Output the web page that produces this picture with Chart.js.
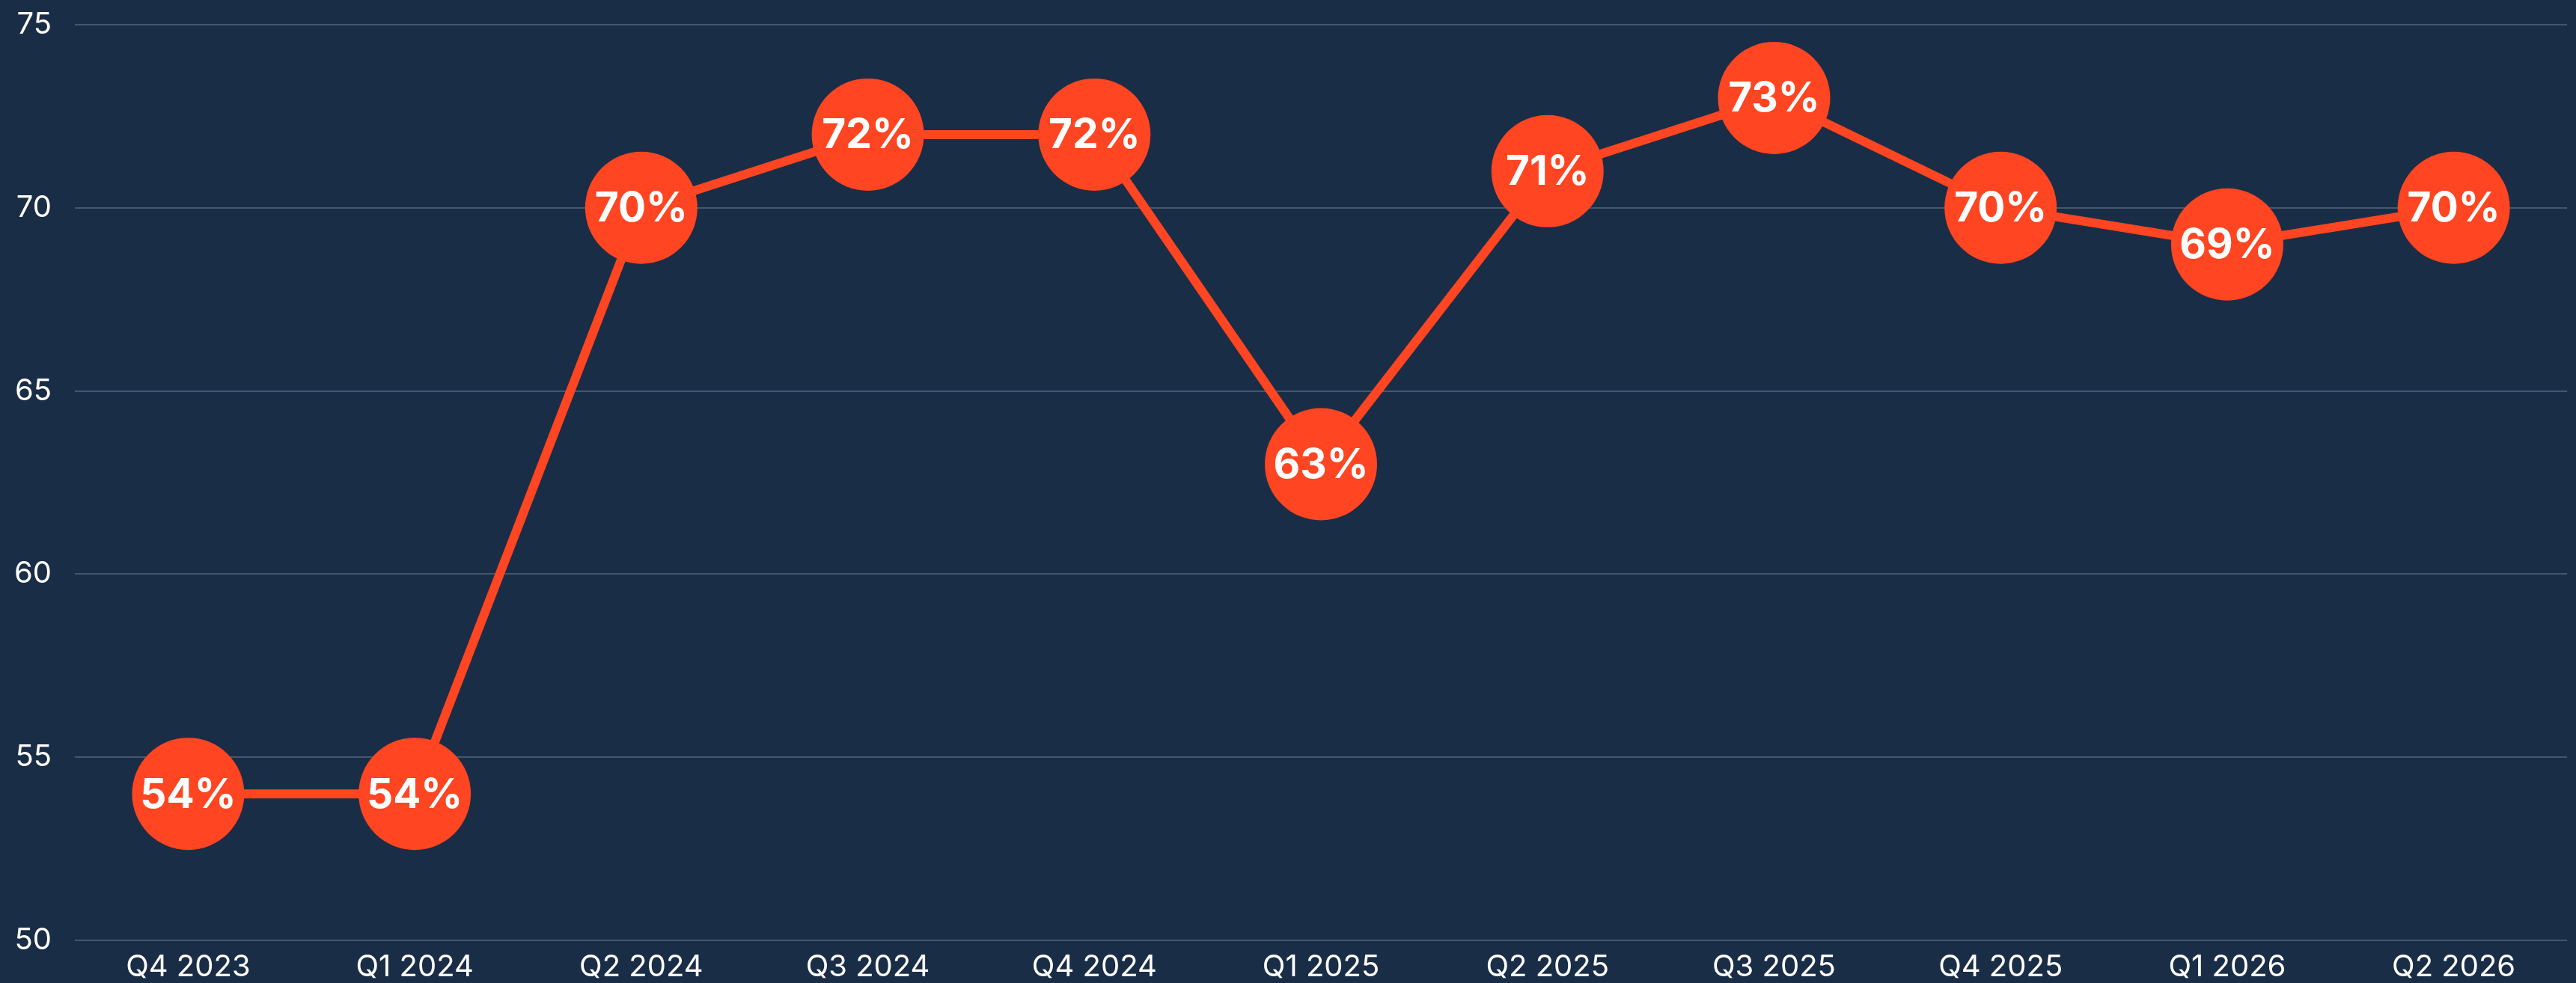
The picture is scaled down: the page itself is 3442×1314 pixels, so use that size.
<!DOCTYPE html>
<html>
<head>
<meta charset="utf-8">
<script src="https://cdn.jsdelivr.net/npm/chart.js"></script>
<style>
  html, body { margin: 0; padding: 0; background: #1a2d46; }
  #wrap { width: 3442px; height: 1314px; }
</style>
</head>
<body>
<div id="wrap"><canvas id="chart" width="3442" height="1314"></canvas></div>
<script>
// quarters on the x axis
const quarters = ['Q4 2023', 'Q1 2024', 'Q2 2024', 'Q3 2024', 'Q4 2024', 'Q1 2025',
                  'Q2 2025', 'Q3 2025', 'Q4 2025', 'Q1 2026', 'Q2 2026'];
// percentage per quarter
const values = [54, 54, 70, 72, 72, 63, 71, 73, 70, 69, 70];
// y axis ticks
const yTicks = [50, 55, 60, 65, 70, 75];

const orange = '#ff4521';
const fontFamily = 'Inter, "Noto Sans", sans-serif';

// draws "NN%" inside every point
const pointLabels = {
    id: 'pointLabels',
    afterDatasetsDraw(chart) {
        const ctx = chart.ctx;
        const meta = chart.getDatasetMeta(0);
        ctx.save();
        ctx.fillStyle = '#ffffff';
        ctx.font = 'bold 55px ' + fontFamily;
        ctx.textAlign = 'center';
        ctx.textBaseline = 'middle';
        meta.data.forEach((pt, i) => {
            ctx.fillText(values[i] + '%', pt.x, pt.y + 2);
        });
        ctx.restore();
    }
};

new Chart(document.getElementById('chart').getContext('2d'), {
    type: 'line',
    data: {
        labels: quarters,
        datasets: [{
            data: values,
            borderColor: orange,
            borderWidth: 12,
            backgroundColor: orange,
            pointBackgroundColor: orange,
            pointBorderWidth: 0,
            pointRadius: 75,
            pointHoverRadius: 75,
            tension: 0,
            clip: false
        }]
    },
    options: {
        responsive: false,
        animation: false,
        layout: { autoPadding: false, padding: { left: -12, right: 12, top: 33, bottom: -7 } },
        plugins: {
            legend: { display: false },
            tooltip: { enabled: false }
        },
        scales: {
            x: {
                offset: true,
                grid: { display: false },
                border: { display: false },
                ticks: {
                    color: '#ffffff',
                    padding: 8,
                    maxRotation: 0,
                    font: { family: fontFamily, size: 40, lineHeight: 1 }
                }
            },
            y: {
                min: yTicks[0],
                max: yTicks[yTicks.length - 1],
                afterBuildTicks: (axis) => { axis.ticks = yTicks.map(v => ({ value: v })); },
                afterFit: (axis) => { axis.paddingTop = 0; axis.paddingBottom = 0; },
                grid: { color: '#46566c', lineWidth: 2, drawTicks: false },
                border: { display: false },
                ticks: {
                    color: '#ffffff',
                    padding: 31,
                    font: { family: fontFamily, size: 40, lineHeight: 1 }
                }
            }
        }
    },
    plugins: [pointLabels]
});
</script>
</body>
</html>
